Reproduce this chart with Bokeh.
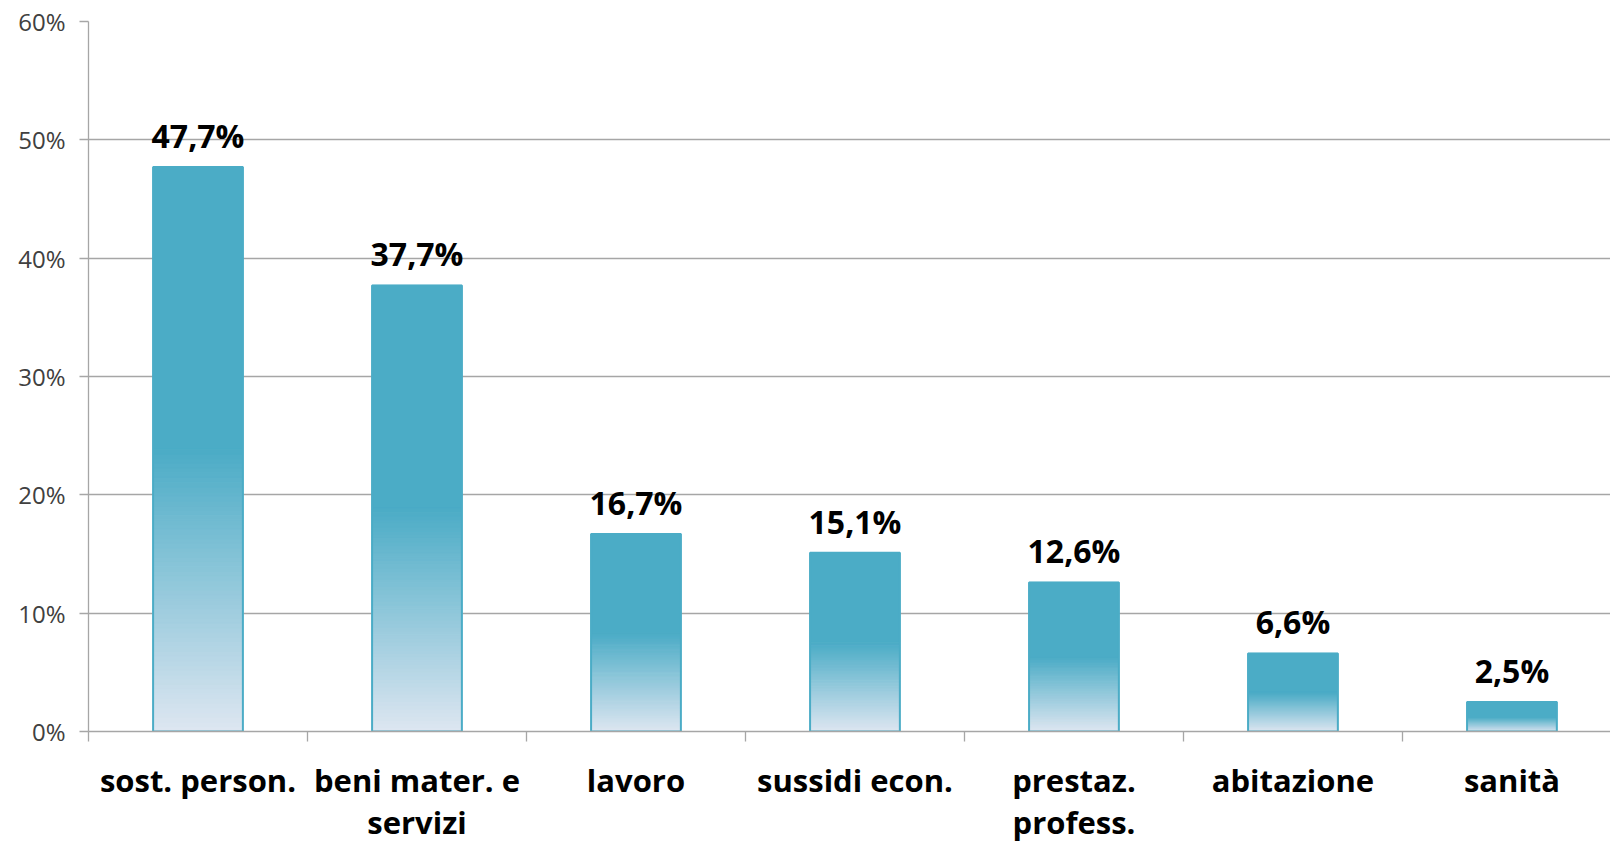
from bokeh.plotting import figure
from bokeh.models import FixedTicker, NumeralTickFormatter, Range1d, ColumnDataSource
from bokeh.core.properties import value
from bokeh.embed import file_html
from bokeh.resources import INLINE

categories = ["sost. person.", "beni mater. e\nservizi", "lavoro", "sussidi econ.",
              "prestaz.\nprofess.", "abitazione", "sanità"]
values = [0.477, 0.377, 0.167, 0.151, 0.126, 0.066, 0.025]
y_ticks = [0.0, 0.1, 0.2, 0.3, 0.4, 0.5, 0.6]

FONT = "Open Sans"
TOP = (75, 172, 198)      # #4BACC6
BOTTOM = (222, 230, 241)  # light bottom

p = figure(width=1610, height=845, output_backend="svg", toolbar_location=None,
           x_range=Range1d(0, 6.95), y_range=Range1d(0, 0.6),
           min_border_left=88, min_border_right=0, min_border_top=21, min_border_bottom=112)
p.outline_line_color = None
p.background_fill_color = "white"
p.border_fill_color = "white"

# gridlines
p.xgrid.grid_line_color = None
p.ygrid.grid_line_color = "#a6a6a6"
p.ygrid.grid_line_width = 1.3
p.ygrid.ticker = FixedTicker(ticks=y_ticks)

# y axis
p.yaxis.ticker = FixedTicker(ticks=y_ticks, minor_ticks=[])
p.yaxis.formatter = NumeralTickFormatter(format="0%")
p.yaxis.axis_line_color = "#a6a6a6"
p.yaxis.axis_line_width = 1.3
p.yaxis.major_tick_line_color = "#a6a6a6"
p.yaxis.major_tick_line_width = 1.3
p.yaxis.major_tick_out = 9
p.yaxis.major_tick_in = 0
p.yaxis.minor_tick_line_color = None
p.yaxis.major_label_text_font = FONT
p.yaxis.major_label_text_font_size = "24px"
p.yaxis.major_label_text_color = "#404040"
p.yaxis.major_label_standoff = 14

# x axis: labels at centers, minor ticks at category boundaries
centers = [i + 0.5 for i in range(len(categories))]
p.xaxis.ticker = FixedTicker(ticks=centers, minor_ticks=list(range(len(categories) + 1)))
p.xaxis.major_label_overrides = {c: lab for c, lab in zip(centers, categories)}
p.xaxis.axis_line_color = "#a6a6a6"
p.xaxis.axis_line_width = 1.3
p.xaxis.major_tick_line_color = None
p.xaxis.major_tick_out = 0
p.xaxis.major_tick_in = 0
p.xaxis.minor_tick_line_color = "#a6a6a6"
p.xaxis.minor_tick_line_width = 1.3
p.xaxis.minor_tick_out = 10
p.xaxis.minor_tick_in = 0
p.xaxis.major_label_text_font = FONT
p.xaxis.major_label_text_font_size = "31px"
p.xaxis.major_label_text_font_style = "bold"
p.xaxis.major_label_text_color = "#000000"
p.xaxis.major_label_text_line_height = 1.0
p.xaxis.major_label_standoff = 17

# gradient bars: solid top half, gradient in the lower half
N = 60
xs, bots, tops, cols = [], [], [], []
for c, v in zip(centers, values):
    xs.append(c); bots.append(v * 0.5); tops.append(v)
    cols.append("#%02x%02x%02x" % TOP)
    for k in range(N):
        f0 = k / N
        f1 = (k + 1) / N
        t = 1 - (f0 + f1) / 2  # 0 at mid, 1 at bottom
        col = tuple(int(round(TOP[j] + (BOTTOM[j] - TOP[j]) * t)) for j in range(3))
        xs.append(c)
        bots.append(v * 0.5 * f0)
        tops.append(v * 0.5 * f1)
        cols.append("#%02x%02x%02x" % col)

p.vbar(x=xs, bottom=bots, top=tops, width=0.41, fill_color=cols, line_color=cols, line_width=1)
p.vbar(x=centers, top=values, bottom=0, width=0.41, fill_color=None,
       line_color="#4bacc6", line_width=2)

labels = [("%.1f%%" % (v * 100)).replace(".", ",") for v in values]
src = ColumnDataSource(dict(x=centers, y=values, t=labels))
p.text(x="x", y="y", text="t", source=src, text_align="center", text_baseline="bottom",
       y_offset=-10, text_font=value(FONT), text_font_style="bold",
       text_font_size="32px", text_color="#000000")

open("out.html", "w").write(file_html(p, INLINE))
